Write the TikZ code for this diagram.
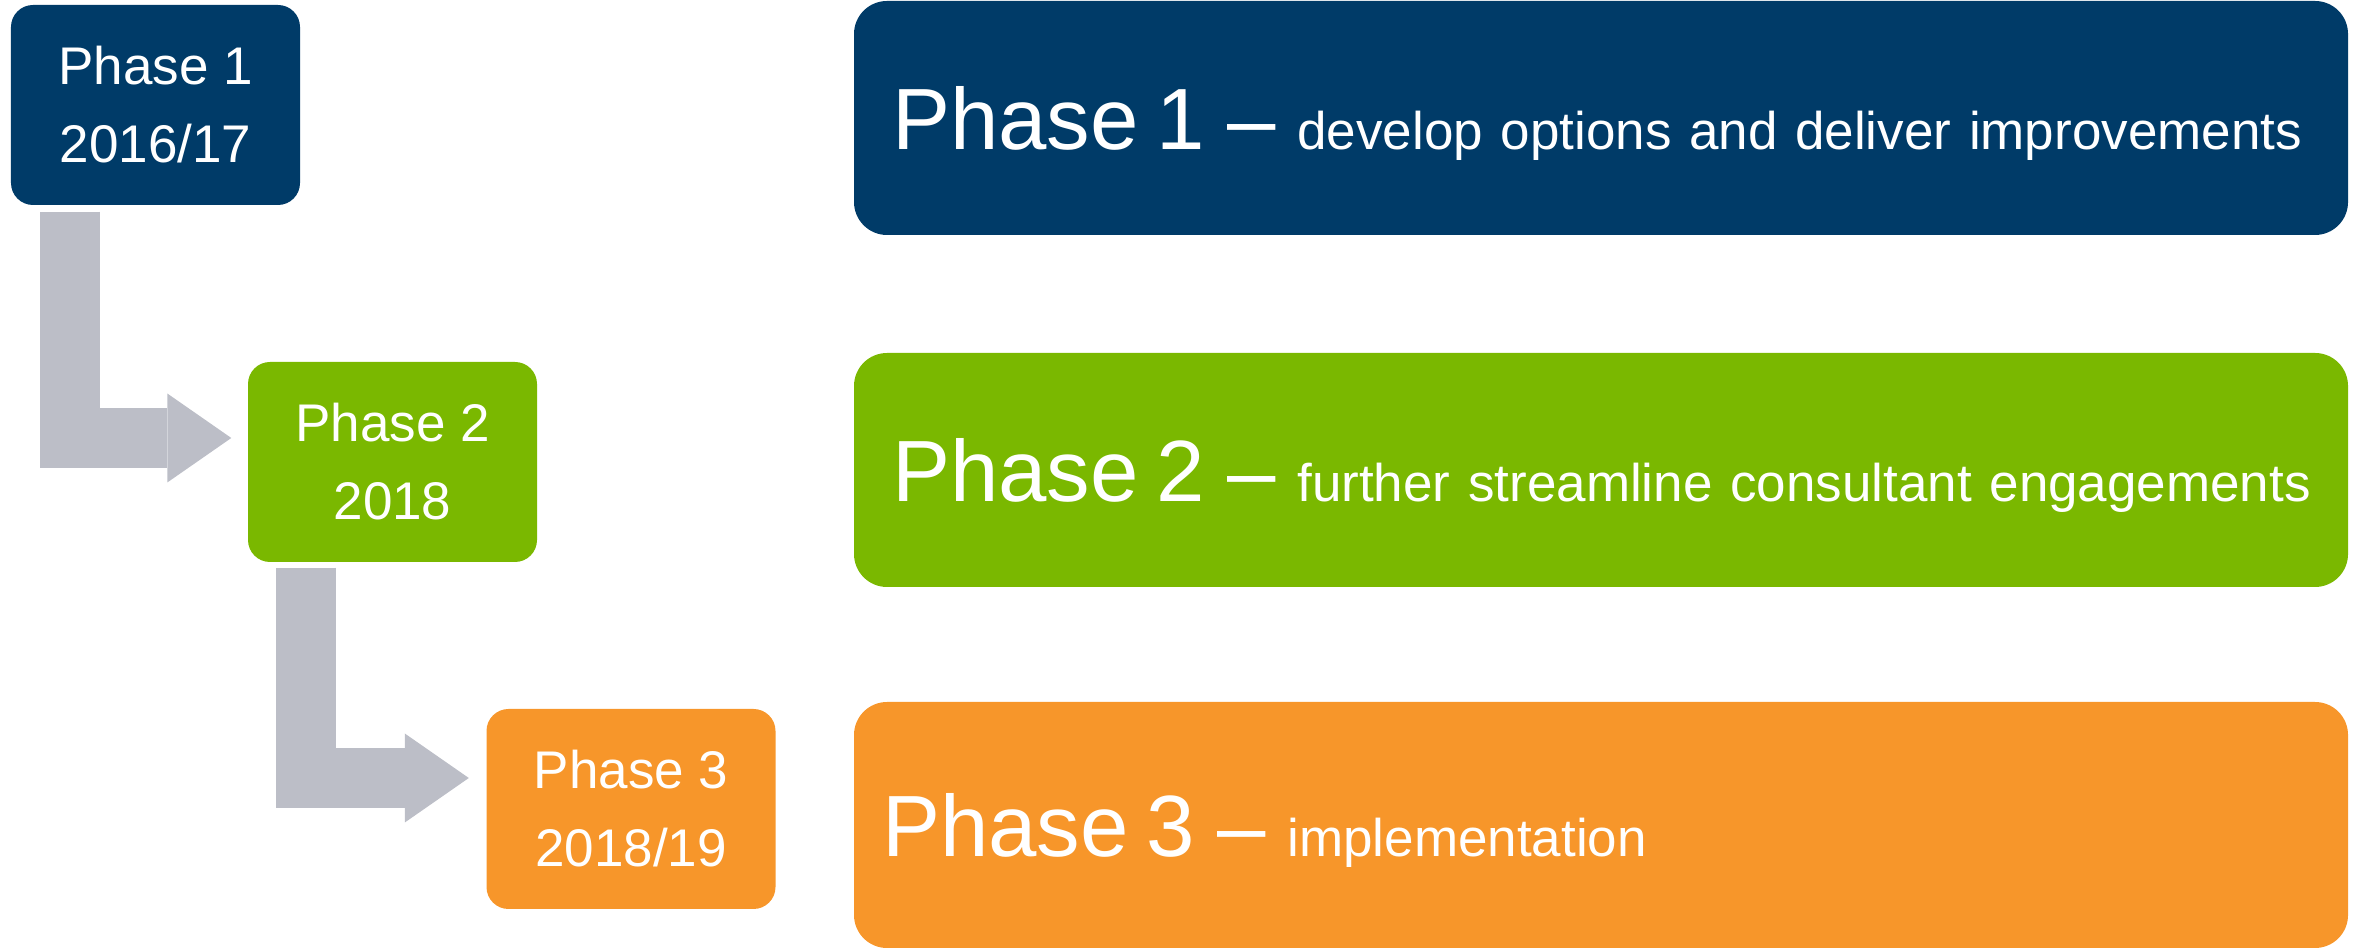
\documentclass[tikz,border=0pt]{standalone}
\usepackage{fontspec}
\setmainfont{Liberation Sans}
\usetikzlibrary{arrows.meta}

\definecolor{navy}{RGB}{0,59,104}
\definecolor{lime}{RGB}{122,184,0}
\definecolor{amber}{RGB}{247,150,42}
\definecolor{steel}{RGB}{188,190,199}

\begin{document}
\begin{tikzpicture}[
        phase/.style={rectangle, rounded corners=0.22cm, text=white, minimum width=2.89cm, minimum height=2cm, align=center, font=\fontsize{15.08}{22.2}\selectfont},
        bar/.style={rectangle, rounded corners=0.33cm, text=white, minimum height=2.34cm, text width=14.18cm, inner xsep=0.38cm, align=left, text depth=0pt, font=\fontsize{15.08}{18}\selectfont},
        flow/.style={draw=steel, line width=0.6cm, -{Triangle[length=0.64cm, width=0.89cm, line width=0pt]}}
    ]

         \useasboundingbox (0,0) rectangle (23.59,-9.51);

         % small phase boxes
         \node [phase, fill=navy]  (p1)  at (1.555,-1.05)   {Phase 1\\2016/17};
         \node [phase, fill=lime]  (p2)  at (3.925,-4.62)   {Phase 2\\2018};
         \node [phase, fill=amber] (p3)  at (6.31,-8.09)    {Phase 3\\2018/19};

         % wide description bars
         \node [bar, fill=navy]  (d1)  at (16.01,-1.18)  {\mbox{{\fontsize{24.75}{30}\selectfont Phase 1\hspace{0.05cm} -- }\hspace{0.04cm}develop options and deliver improvements}};
         \node [bar, fill=lime]  (d2)  at (16.01,-4.70)  {\mbox{{\fontsize{24.75}{30}\selectfont Phase 2\hspace{0.05cm} -- }\hspace{0.04cm}further streamline consultant engagements}};
         \node [bar, fill=amber, minimum height=2.46cm, inner xsep=0.28cm, text width=14.38cm] (d3)  at (16.01,-8.25)  {\mbox{{\fontsize{24.75}{30}\selectfont Phase 3\hspace{0.05cm} -- }\hspace{0.04cm}implementation}};

         \draw [flow] ([xshift=0.6cm, yshift=-0.06cm]p1.south west) |- ([xshift=-0.16cm, yshift=0.24cm]p2.west);
         \draw [flow] ([xshift=0.59cm, yshift=-0.05cm]p2.south west) |- ([xshift=-0.17cm, yshift=0.31cm]p3.west);

\end{tikzpicture}
\end{document}
